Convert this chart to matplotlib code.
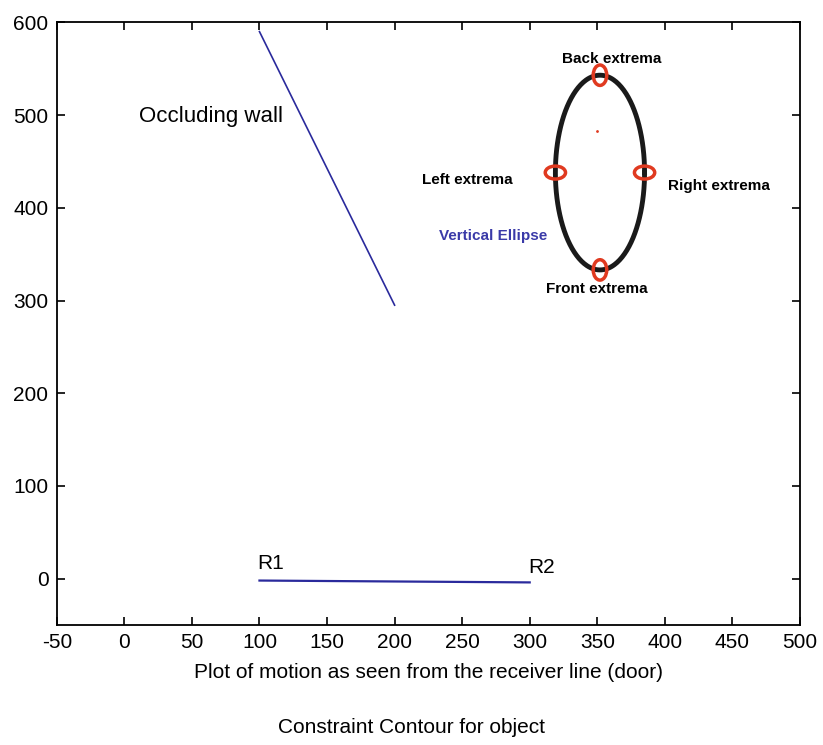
import numpy as np
import matplotlib.pyplot as plt
from matplotlib.patches import Ellipse

# occluding wall segment
wall_x = [100, 200]
wall_y = [590, 295]

# receiver line R1 -> R2
recv_x = [100, 300]
recv_y = [-2, -4]

# vertical constraint ellipse
ell_cx, ell_cy = 352, 438
ell_a, ell_b = 33, 105

xticks = [-50, 0, 50, 100, 150, 200, 250, 300, 350, 400, 450, 500]
yticks = [0, 100, 200, 300, 400, 500, 600]

plt.rcParams['font.family'] = ['Liberation Sans', 'DejaVu Sans']
plt.rcParams['axes.unicode_minus'] = False

fig = plt.figure(figsize=(8.23, 7.45), dpi=100)
ax = fig.add_axes([0.069, 0.161, 0.903, 0.809])

ax.plot(wall_x, wall_y, color='#2a2a9c', lw=1.2)
ax.plot(recv_x, recv_y, color='#2a2a9c', lw=1.6)

t = np.linspace(0, 2 * np.pi, 300)
ax.plot(ell_cx + ell_a * np.cos(t), ell_cy + ell_b * np.sin(t), color='#1a1a1a', lw=3.5)

# red rings on the four extrema
ex_pts = [(ell_cx, ell_cy + ell_b), (ell_cx, ell_cy - ell_b),
          (ell_cx - ell_a, ell_cy), (ell_cx + ell_a, ell_cy)]
ex_w = [10, 10, 15, 15]
ex_h = [22, 22, 14, 14]
for (px, py), w, h in zip(ex_pts, ex_w, ex_h):
    ax.add_patch(Ellipse((px, py), w, h, fill=False, edgecolor='#e03a20', lw=2.5, zorder=5))
ax.plot([350], [483], marker='.', color='#e03a20', ms=2)

bold = dict(fontsize=11, fontweight='bold')
ax.text(361, 560, 'Back extrema', ha='center', va='center', **bold)
ax.text(287, 430, 'Left extrema', ha='right', va='center', **bold)
ax.text(402, 424, 'Right extrema', ha='left', va='center', **bold)
ax.text(350, 312, 'Front extrema', ha='center', va='center', **bold)
ax.text(313, 370, 'Vertical Ellipse', ha='right', va='center', color='#3a3aa8', **bold)

ax.text(11, 498, 'Occluding wall', fontsize=16, ha='left', va='center')
ax.text(98, 16, 'R1', fontsize=15, ha='left', va='center')
ax.text(299, 12, 'R2', fontsize=15, ha='left', va='center')

ax.set_xlim(-50, 500)
ax.set_ylim(-50, 600)
ax.set_xticks(xticks)
ax.set_yticks(yticks)
ax.tick_params(direction='in', top=True, right=True, labelsize=15, length=6, width=1.2, pad=6)
for s in ax.spines.values():
    s.set_linewidth(1.3)

ax.set_xlabel('Plot of motion as seen from the receiver line (door)', fontsize=15, labelpad=8)
fig.text(0.5, 0.016, 'Constraint Contour for object', ha='center', fontsize=15)

fig.savefig('out.png', dpi=100)
